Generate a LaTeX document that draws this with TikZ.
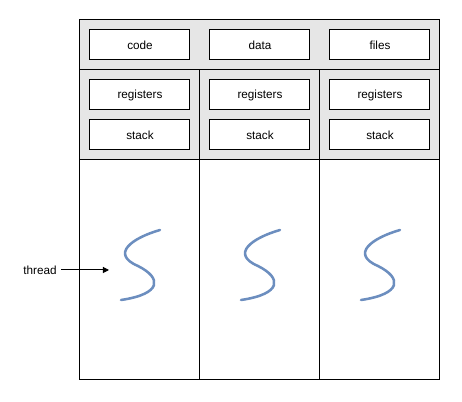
\documentclass[tikz,border=0pt]{standalone}
\usepackage{fontspec}
\setmainfont{Liberation Sans}
\usepackage{xcolor}
\usetikzlibrary{positioning,arrows.meta}
\definecolor{Band}{HTML}{E6E6E6}
\definecolor{Thr}{HTML}{6C8EBF}

\begin{document}
\begin{tikzpicture}[x=0.75pt,y=-0.75pt,font=\fontsize{8.8}{10}\selectfont,
  cell/.style={draw,line width=.75pt,fill=white,minimum width=75pt,
               minimum height=22.5pt,inner sep=0pt,anchor=center},
  sep/.style={line width=.75pt},
  thr/.style={draw=Thr,line width=1.9pt,line cap=round},
  ar/.style={-{Triangle[length=4.5pt,width=4.5pt]},line width=.75pt}]
\useasboundingbox (0,0) rectangle (462,402);

% process frame
\fill[Band] (80,20) rectangle (440,160);
\draw[sep] (80,20) rectangle (440,380);
\draw[sep] (80,70) -- (440,70);
\draw[sep] (80,160) -- (440,160);
\draw[sep] (200,70) -- (200,380);
\draw[sep] (320,70) -- (320,380);

% shared part
\node[cell] (code)  at (140,45) {code};
\node[cell] (data)  at (260,45) {data};
\node[cell] (files) at (380,45) {files};

% per thread part
\foreach \i/\x in {1/140,2/260,3/380} {
  \node[cell] (reg\i) at (\x,95)  {registers};
  \node[cell] (stk\i) at (\x,135) {stack};
  \draw[thr] (\x+20,230) .. controls (\x-8,238) and (\x-30,254) .. (\x-2,266)
             .. controls (\x+22,278) and (\x+22,294) .. (\x-19,300);
}

\node (thread) at (40,270) {thread};
\coordinate (tip) at (109,270);
\draw[ar] (thread) -- (tip);

\end{tikzpicture}
\end{document}
